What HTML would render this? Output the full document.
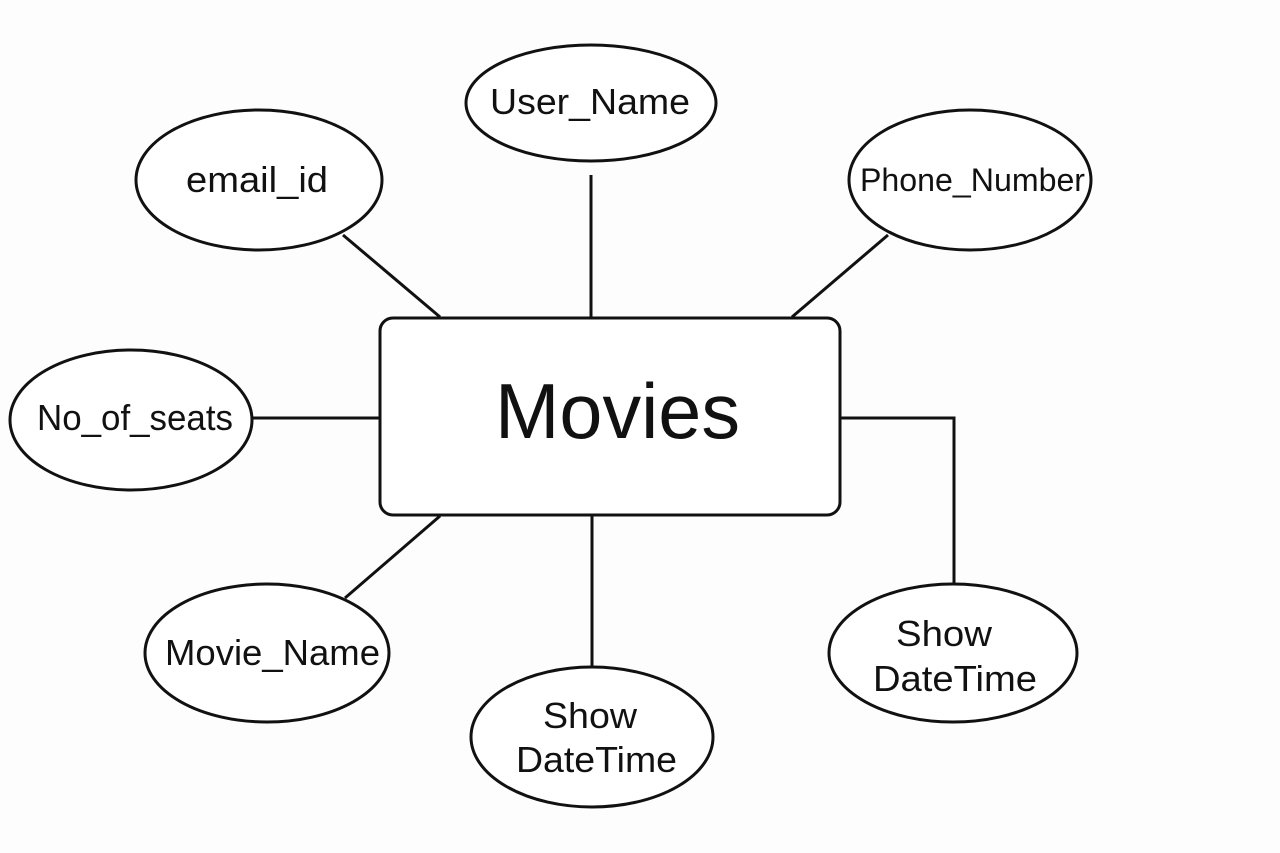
<!DOCTYPE html>
<html><head><meta charset="utf-8"><style>
html,body{margin:0;padding:0;background:#fdfdfd;}
svg{display:block;}
text{font-family:"Liberation Sans",Arial,sans-serif;fill:#111;}
</style></head><body>
<svg width="1280" height="853" viewBox="0 0 1280 853" xmlns="http://www.w3.org/2000/svg">
<rect width="1280" height="853" fill="#fdfdfd"/>
<g stroke="#111" stroke-width="3" fill="none">
<line x1="343" y1="235" x2="440" y2="317"/>
<line x1="591" y1="175" x2="591" y2="318"/>
<line x1="888" y1="235" x2="792" y2="317"/>
<line x1="252" y1="418" x2="380" y2="418"/>
<line x1="345" y1="598" x2="440" y2="516"/>
<line x1="592" y1="516" x2="592" y2="667"/>
<polyline points="840,418 954,418 954,584"/>
<rect x="380" y="318" width="460" height="197" rx="13" fill="#fff"/>
<ellipse cx="591" cy="103" rx="125" ry="58" fill="#fff"/>
<ellipse cx="259" cy="180" rx="123" ry="70" fill="#fff"/>
<ellipse cx="970" cy="180" rx="121" ry="70" fill="#fff"/>
<ellipse cx="131" cy="420" rx="121" ry="70" fill="#fff"/>
<ellipse cx="267" cy="653" rx="122" ry="69" fill="#fff"/>
<ellipse cx="592" cy="737" rx="121" ry="70" fill="#fff"/>
<ellipse cx="953" cy="653" rx="124" ry="69" fill="#fff"/>
</g>
<g font-size="36" lengthAdjust="spacingAndGlyphs">
<text x="495" y="438" font-size="78" textLength="245" lengthAdjust="spacingAndGlyphs">Movies</text>
<text x="490" y="114" textLength="200" lengthAdjust="spacingAndGlyphs">User_Name</text>
<text x="186" y="192" textLength="142" lengthAdjust="spacingAndGlyphs">email_id</text>
<text x="860" y="191" font-size="32" textLength="225" lengthAdjust="spacingAndGlyphs">Phone_Number</text>
<text x="37" y="430" textLength="196" lengthAdjust="spacingAndGlyphs">No_of_seats</text>
<text x="165" y="665" textLength="215" lengthAdjust="spacingAndGlyphs">Movie_Name</text>
<text x="543" y="728" textLength="94" lengthAdjust="spacingAndGlyphs">Show</text>
<text x="516" y="772" textLength="161" lengthAdjust="spacingAndGlyphs">DateTime</text>
<text x="896" y="646" textLength="96" lengthAdjust="spacingAndGlyphs">Show</text>
<text x="873" y="691" textLength="164" lengthAdjust="spacingAndGlyphs">DateTime</text>
</g>
</svg>
</body></html>
